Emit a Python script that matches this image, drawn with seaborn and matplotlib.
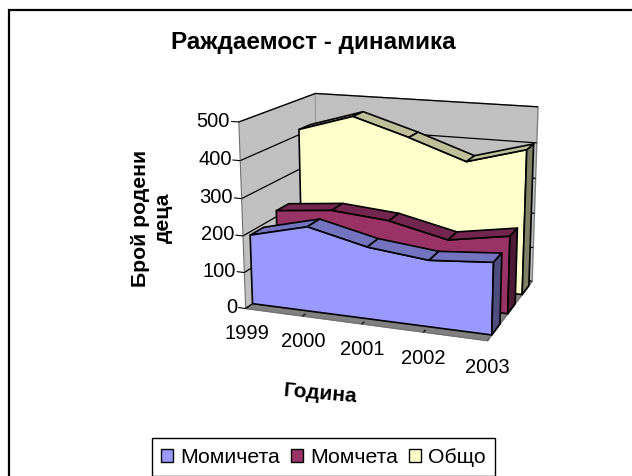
import numpy as np
import matplotlib
matplotlib.use("Agg")
import matplotlib.pyplot as plt
from matplotlib.patches import Patch, Rectangle
from mpl_toolkits.mplot3d.art3d import Poly3DCollection
from mpl_toolkits.mplot3d import proj3d
import seaborn as sns

years = [1999, 2000, 2001, 2002, 2003]
series_names = ["Момичета", "Момчета", "Общо"]
girls = [191, 230, 193, 176, 189]
boys = [217, 233, 220, 184, 211]
total = [415, 463, 415, 360, 405]
colors = ["#9999FF", "#993366", "#FFFFCC"]

sns.set_style("white", {"text.color": "black", "xtick.color": "black", "ytick.color": "black"})
plt.rcParams['font.family'] = ['Liberation Sans', 'DejaVu Sans']
palette = sns.color_palette(colors)

def shade(c, f):
    return tuple(v * f for v in c)

fig = plt.figure(figsize=(6.32, 4.76), dpi=100)
ax = fig.add_axes([0.236, 0.197, 0.76, 0.72], projection="3d", proj_type="persp", focal_length=0.6)
ax.patch.set_alpha(0)
ax.view_init(elev=15, azim=-70)
ax.set_box_aspect((1.40, 1.01, 1.06), zoom=1.01)
ax.computed_zorder = False
ax.set_xlim(0, 4); ax.set_ylim(0, 3); ax.set_zlim(0, 500)
x = np.arange(len(years))
for i, (vals, col) in enumerate(zip([girls, boys, total], palette)):
    y0, y1 = i + 0.25, i + 0.75
    polys, faces = [], []
    polys.append([(x[0], y0, 0)] + [(a, y0, v) for a, v in zip(x, vals)] + [(x[-1], y0, 0)])
    faces.append(col)
    for a in range(len(x) - 1):
        polys.append([(x[a], y0, vals[a]), (x[a+1], y0, vals[a+1]), (x[a+1], y1, vals[a+1]), (x[a], y1, vals[a])])
        faces.append(shade(col, 0.75))
    polys.append([(x[-1], y0, 0), (x[-1], y0, vals[-1]), (x[-1], y1, vals[-1]), (x[-1], y1, 0)])
    faces.append(shade(col, 0.5))
    pc = Poly3DCollection(polys, facecolors=faces, edgecolors="black", linewidths=1.2, zorder=10 - i, shade=False, clip_on=False)
    ax.add_collection3d(pc)

z_ticks = list(range(0, 501, 100))
ax.set_xticks(x); ax.set_xticklabels([])
ax.set_yticks([])
ax.set_zticks(z_ticks); ax.set_zticklabels([])
for a, c in [(ax.xaxis, "#C0C0C0"), (ax.yaxis, "#C0C0C0"), (ax.zaxis, "#808080")]:
    a.set_pane_color(c)
    a.pane.set_edgecolor("#808080")
    a.line.set_color("#707070")
    a._axinfo["tick"].update(inward_factor=0, outward_factor=0.4)
ax.zaxis._get_tickdir = lambda pos: 0
ax.xaxis._axinfo["grid"].update(color="none", linewidth=0)
ax.yaxis._axinfo["grid"].update(color="none", linewidth=0)
ax.zaxis._axinfo["grid"].update(color="black", linewidth=0.9)
ax.grid(True)
ax.zaxis.set_ticks_position("lower")

fig.canvas.draw()
def fig_xy(x_, y_, z_):
    a, b, _ = proj3d.proj_transform(x_, y_, z_, ax.get_proj())
    return fig.transFigure.inverted().transform(ax.transData.transform((a, b)))

for xi, label in zip(x, years):
    fx, fy = fig_xy(xi, 0, -70)
    fig.text(fx, fy, str(label), ha="center", va="center", fontsize=14.5)
for z in z_ticks:
    fx, fy = fig_xy(-0.15, 0, z)
    fig.text(fx, fy, str(z), ha="right", va="center", fontsize=14.5)

fig.add_artist(Rectangle((8.5/632, -0.1), 700/632, 1.1-10.5/476, transform=fig.transFigure, fill=False, ec="black", lw=1.6))
fig.text(313/632, 1-42/476, "Раждаемост - динамика", ha="center", va="center", fontsize=17.5, fontweight="bold")
fig.text(152/632, 1-218/476, "Брой родени\nдеца", ha="center", va="center", rotation=90, fontsize=15.3, fontweight="bold", linespacing=1.3)
fig.text(320/632, 1-394/476, "Година", ha="center", va="center", rotation=-5, fontsize=15, fontweight="bold")
handles = [Patch(facecolor=c, edgecolor="black", label=n) for n, c in zip(series_names, palette)]
leg = fig.legend(handles=handles, loc="upper center", bbox_to_anchor=(323.5/632, 1-438/476), ncol=3, fontsize=15.3, frameon=True,
                 fancybox=False, edgecolor="black", framealpha=1, handlelength=0.56, handleheight=0.56, columnspacing=0.52, handletextpad=0.33, borderaxespad=0, borderpad=0.45)
fig.savefig("out.png", dpi=100)
